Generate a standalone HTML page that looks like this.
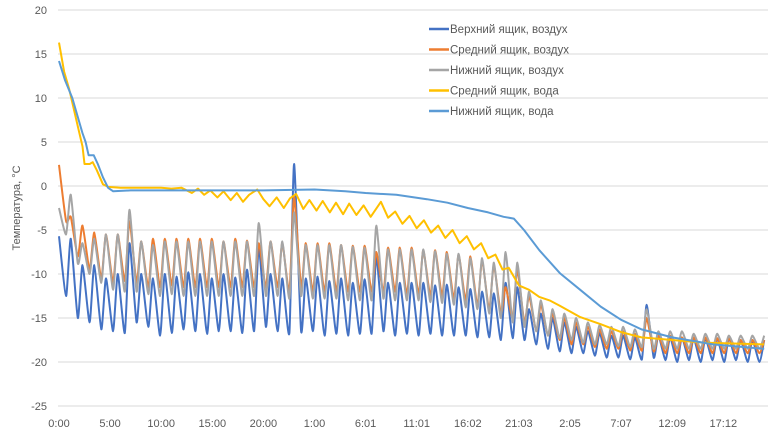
<!DOCTYPE html>
<html><head><meta charset="utf-8"><style>
body{margin:0;background:#fff;}
svg{display:block;font-family:"Liberation Sans",sans-serif;}
</style></head><body>
<svg id="chart" width="780" height="447" xmlns="http://www.w3.org/2000/svg">
<rect width="780" height="447" fill="#fff"/>
<g id="grid"></g>
<g id="yticks"></g>
<g id="xticks"></g>
<text transform="translate(20,208) rotate(-90)" text-anchor="middle" font-size="11" fill="#595959">Температура, °C</text>
<g id="series"></g>
<g id="legend"></g>
</svg>
<script>
const yTicks=[20,15,10,5,0,-5,-10,-15,-20,-25];
const xTickLabels=["0:00","5:00","10:00","15:00","20:00","1:00","6:01","11:01","16:02","21:03","2:05","7:07","12:09","17:12"];
const xTickHours=[0,5,10,15,20,25,30,35,40,45,50,55,60,65];
const cyclePeriod=1.15;
const bluePeaks=[-5.7,-6,-9,-9,-10.5,-10,-6.5,-10,-10.5,-10,
-10.3,-9.8,-10,-10.5,-10,-10.4,-9.5,-7,-10,-10.5,
2.5,-10.5,-10.3,-10.8,-10.5,-11,-10.6,-8,-11,-11,
-11,-11,-11.3,-11.2,-11.5,-11.7,-12,-12.2,-11,-11.5,
-14,-14.5,-15,-15.5,-16,-16.5,-16.7,-17,-17,-17.2,
-13.5,-17,-17.2,-17.2,-17.3,-17.3,-17.3,-17.3,-17.5,-17.5,-17.5];
const blueTroughs=[-12.5,-15,-15.5,-16.3,-16.5,-16.7,-15.5,-16,-17,-16.7,
-16.3,-16.5,-16.8,-16.5,-16.5,-16.7,-16.5,-16,-16.5,-16.7,
-16.5,-16.5,-17,-16.8,-17,-16.8,-16.8,-16.5,-17,-16.8,
-17,-16.8,-17,-17,-17,-17.2,-17.2,-17.5,-17.3,-17.5,
-18,-18.5,-18.8,-19,-19,-19.3,-19.5,-19.5,-19.7,-19.7,
-19.5,-19.8,-20,-19.8,-20,-19.8,-20,-19.8,-20,-20,-20];
const orangePeaks=[2.4,-3.5,-4.5,-5.3,-5.5,-5.5,-4,-6.3,-6,-6,
-6,-6,-6,-6,-6.3,-6,-6.2,-6.5,-6.3,-6.5,
-1.2,-6.5,-6.5,-6.5,-6.7,-6.8,-6.8,-7.5,-7,-7,
-7,-7.3,-7.3,-7.5,-7.8,-8,-8.5,-9,-11.5,-9.5,
-12.5,-13.5,-14.5,-15,-15.5,-16,-16.3,-16.5,-16.5,-16.8,
-15,-17,-17,-17.2,-17.2,-17.2,-17.3,-17.3,-17.5,-17.5,-17.5];
const orangeTroughs=[-4,-8,-9.5,-10.5,-11,-10.8,-11,-11.5,-11.5,-11.3,
-11.5,-11.5,-11.5,-11.5,-11.5,-11.5,-11.5,-11.5,-11.5,-12,
-11.5,-12,-12,-12,-12,-12,-12,-12,-12,-12.3,
-12.3,-12.5,-12.5,-12.8,-13,-13.5,-14,-14.5,-15,-15.5,
-16.5,-17,-17.5,-18,-18,-18.3,-18.5,-18.5,-18.7,-18.7,
-18.8,-19,-19,-19,-19,-19,-19,-19,-19,-19,-19];
const grayPeaks=[-2.5,-1,-6.5,-6,-5.5,-5.5,-2.7,-6.3,-6.7,-6.3,
-6.3,-6.3,-6.3,-6.3,-6.3,-6.3,-6.3,-4.2,-6.3,-6.3,
-3,-6.7,-6.7,-6.7,-6.7,-6.9,-7,-4.5,-7.2,-7.2,
-7.2,-7.2,-7.4,-7.7,-7.7,-8.2,-8.2,-8.7,-7.5,-8.7,
-12,-13,-14,-14.5,-15,-15.5,-15.8,-16,-16,-16.3,
-14,-16.5,-16.5,-16.5,-16.8,-16.8,-16.8,-17,-17,-17,-17];
const grayTroughs=[-5.5,-8.8,-10,-11,-11.8,-12,-12,-12.3,-12.5,-12.3,
-12.5,-12.5,-12.5,-12.5,-12.5,-12.5,-12.5,-12.5,-12.5,-12.8,
-12.5,-12.8,-12.8,-12.8,-13,-13,-13,-12.8,-13,-13,
-13,-13.2,-13.3,-13.5,-13.8,-14,-14.5,-15,-15.5,-16,
-16.5,-17,-17.3,-17.5,-17.8,-18,-18,-18.2,-18.3,-18.3,
-18.5,-18.5,-18.5,-18.5,-18.5,-18.5,-18.5,-18.5,-18.5,-18.5,-18.5];
const yellowHours=[0,0.5,1,1.5,2,2.3,2.5,3,3.3,3.7,4.3,4.8,6,8,10,11,12,13,13.6,14.2,14.8,15.5,16.1,16.8,17.4,18,18.6,19.4,20,20.6,21.3,22,22.6,23.2,23.9,24.5,25.2,25.8,26.5,27.1,27.8,28.4,29.1,29.8,30.5,31.5,32.2,32.9,33.6,34.3,35,35.7,36.4,37.1,37.8,38.5,39.2,39.9,40.6,41.3,42,42.7,43.4,44,45,46,47,48,49,51,53,55,57,60,63,66,69];
const yellowValues=[16.3,13,11,8.5,6,4.5,2.5,2.5,2.7,1.8,0.2,-0.1,-0.2,-0.2,-0.2,-0.3,-0.2,-0.8,-0.3,-1,-0.5,-1.3,-0.6,-1.6,-0.8,-1.8,-1,-0.4,-1.5,-2.3,-1.3,-2.5,-1.4,-0.9,-2.6,-1.6,-2.8,-1.7,-3,-1.9,-3.2,-2,-3.3,-2.2,-3.5,-1.8,-3.6,-2.9,-4.3,-3.4,-4.8,-3.9,-5.3,-4.5,-5.9,-5,-6.5,-5.7,-7.2,-6.5,-8.2,-7.8,-9.5,-9.3,-11.3,-11.8,-12.6,-13,-13.6,-14.9,-15.7,-16.6,-17.2,-17.5,-17.8,-17.9,-18];
const lightBlueHours=[0,0.6,1.3,1.8,2.3,2.6,2.9,3.4,3.8,4.3,4.8,5.3,7,10,15,20,25,28,30,33,36,38,40,42,43.5,44.5,45.5,47,49,51,53,55,57,60,64,69];
const lightBlueValues=[14.2,12,10,8,6,5,3.5,3.5,2.5,1,-0.2,-0.6,-0.5,-0.5,-0.5,-0.5,-0.4,-0.6,-0.8,-1,-1.5,-1.9,-2.5,-3,-3.5,-3.7,-5,-7.3,-9.9,-11.8,-13.7,-15.2,-16.3,-17.2,-18,-18.5];

const NS="http://www.w3.org/2000/svg";
const X0=59,PXH=10.22,Y0=186,PXU=8.8,XR=768;
function xs(t){return X0+t*PXH;}
function ys(v){return Y0-v*PXU;}
function mk(tag,attrs,parent){const e=document.createElementNS(NS,tag);for(const k in attrs)e.setAttribute(k,attrs[k]);parent.appendChild(e);return e;}
const grid=document.getElementById('grid'),yt=document.getElementById('yticks'),xt=document.getElementById('xticks'),ser=document.getElementById('series'),leg=document.getElementById('legend');
yTicks.forEach(v=>{
  const l=mk('line',{x1:X0-1,x2:XR,y1:ys(v),y2:ys(v),stroke:'#d9d9d9','stroke-width':1},grid);
  
  
  const t=mk('text',{x:47,y:ys(v)+4,'text-anchor':'end','font-size':11,fill:'#595959'},yt);
  t.textContent=v;
  
  
});
xTickLabels.forEach((s,i)=>{
  const t=mk('text',{x:xs(xTickHours[i]),y:427,'text-anchor':'middle','font-size':11,fill:'#595959'},xt);
  t.textContent=s;
  
  
});
function cyclePts(peaks,troughs){const p=[];for(let i=0;i<peaks.length;i++){p.push([i*cyclePeriod,peaks[i]]);p.push([(i+0.6)*cyclePeriod,troughs[i]]);}return p.filter(q=>xs(q[0])<=XR);}
function linePts(h,v){return h.map((t,i)=>[t,v[i]]);}
function draw(pts,color,name,smooth){
  const P=pts.map(p=>[xs(p[0]),ys(p[1])]);
  let d='M'+P[0][0].toFixed(1)+','+P[0][1].toFixed(1);
  for(let i=1;i<P.length;i++){
    if(smooth){
      const p0=P[Math.max(0,i-2)],p1=P[i-1],p2=P[i],p3=P[Math.min(P.length-1,i+1)];
      const k=smooth/6;
      const c1=[p1[0]+(p2[0]-p0[0])*k,p1[1]+(p2[1]-p0[1])*k];
      const c2=[p2[0]-(p3[0]-p1[0])*k,p2[1]-(p3[1]-p1[1])*k];
      d+='C'+c1[0].toFixed(1)+','+c1[1].toFixed(1)+' '+c2[0].toFixed(1)+','+c2[1].toFixed(1)+' '+p2[0].toFixed(1)+','+p2[1].toFixed(1);
    } else d+='L'+P[i][0].toFixed(1)+','+P[i][1].toFixed(1);
  }
  const e=mk('path',{d:d,fill:'none',stroke:color,'stroke-width':2,'stroke-linejoin':'round'},ser);
  
  
}
draw(cyclePts(bluePeaks,blueTroughs),'#4472C4','upper-box-air-line',0.6);
draw(cyclePts(orangePeaks,orangeTroughs),'#ED7D31','middle-box-air-line',0.6);
draw(cyclePts(grayPeaks,grayTroughs),'#A5A5A5','lower-box-air-line',0.6);
draw(linePts(yellowHours,yellowValues),'#FFC000','middle-box-water-line',0);
draw(linePts(lightBlueHours,lightBlueValues),'#5B9BD5','lower-box-water-line',0);
const legendItems=[["Верхний ящик, воздух","#4472C4"],["Средний ящик, воздух","#ED7D31"],["Нижний ящик, воздух","#A5A5A5"],["Средний ящик, вода","#FFC000"],["Нижний ящик, вода","#5B9BD5"]];
legendItems.forEach((it,i)=>{
  const y=29+i*20.5;
  const g=mk('g',{},leg);
  
  
  mk('line',{x1:429,x2:449,y1:y,y2:y,stroke:it[1],'stroke-width':2.5},g);
  const t=mk('text',{x:450,y:y+4,'font-size':11.5,fill:'#595959'},g);
  t.textContent=it[0];
});
</script>
</body></html>
